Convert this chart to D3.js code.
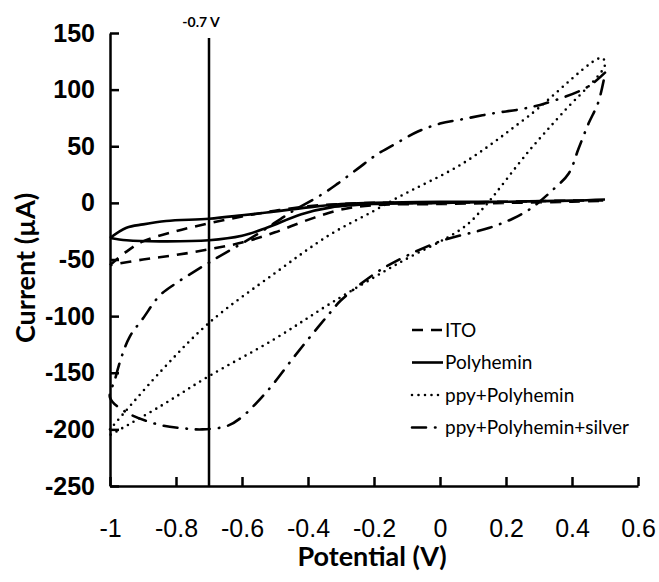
<html>
<head>
<meta charset="utf-8">
<style>
body { margin: 0; background: #fff; }
svg { font-family: Lato, "Open Sans", sans-serif; }
.axis path, .axis line { stroke: #000; stroke-width: 2.5px; }
.axis--y text { font-size: 25px; font-weight: bold; }
.axis--x text { font-size: 25px; }
.curve { fill: none; stroke: #000; stroke-width: 2.6px; }
.title { font-size: 27px; font-weight: bold; }
.legend text { font-size: 19px; }
</style>
</head>
<body>
<svg width="659" height="582"></svg>
<script src="https://cdn.jsdelivr.net/npm/d3@7"></script>
<script>

// ---- data: [potential (V), current (uA)] ----
var xTicks = [-1, -0.8, -0.6, -0.4, -0.2, 0, 0.2, 0.4, 0.6];
var yTicks = [150, 100, 50, 0, -50, -100, -150, -200, -250];
var marker = -0.7;

var ito = [
  [-1,-55],[-0.95,-43],[-0.9,-34],[-0.8,-25],[-0.7,-18],[-0.6,-12],[-0.5,-7],[-0.4,-3],[-0.3,-1],
  [-0.2,0],[0,0],[0.2,1],[0.4,2],[0.5,2],
  [0.4,1],[0.2,0],[0,-1],[-0.2,-2],[-0.3,-6],[-0.4,-15],[-0.5,-26],[-0.6,-35],
  [-0.7,-41],[-0.8,-46],[-0.9,-50],[-1,-55]
];
var polyhemin = [
  [-1,-31],[-0.95,-22],[-0.9,-19],[-0.83,-16],[-0.7,-14],[-0.6,-11],[-0.525,-8.5],[-0.4,-4],
  [-0.3,-1],[-0.2,0],[0,1],[0.2,1],[0.4,2],[0.5,3],
  [0.4,2],[0.2,1],[0,0],[-0.2,-1],[-0.33,-4],[-0.42,-10],[-0.525,-22],[-0.6,-29],
  [-0.7,-33],[-0.85,-34],[-0.95,-33],[-1,-31]
];
var ppyPolyhemin = [
  [-1,-200],[-0.85,-150],[-0.7,-106],[-0.5,-62],[-0.333,-28],[-0.2,-7],[-0.12,6],[0.07,35],
  [0.27,77],[0.49,128],
  [0.5,122],[0.37,79],[0.27,46],[0.13,-5],[0.07,-22],[-0.13,-54],[-0.333,-89],[-0.5,-120],
  [-0.7,-153],[-0.85,-180],[-1,-205]
];
var ppyPolyheminSilver = [
  [0.5,115],[0.445,102],[0.32,88],[0.25,83],[0.16,79],[0.07,74],[0,70],[-0.067,63],[-0.13,53],
  [-0.19,43],[-0.25,30],[-0.31,17],[-0.355,8],[-0.45,-8],[-0.55,-27],[-0.69,-51],[-0.8,-71],
  [-0.85,-82],[-0.9,-102],[-0.94,-118],[-0.965,-136],[-0.985,-156],[-1,-172],
  [-0.95,-185],[-0.85,-196],[-0.78,-199],[-0.72,-200],[-0.645,-197],[-0.6,-189],[-0.535,-170],
  [-0.5,-158],[-0.445,-137],[-0.39,-117],[-0.333,-97],[-0.3,-86],[-0.2,-63],[-0.13,-51],
  [0,-34],[0.15,-22],[0.22,-14],[0.27,-6],[0.34,11],[0.39,26],[0.42,48],[0.45,70],[0.48,89],[0.5,114]
];

var seriesNames = ["ITO", "Polyhemin", "ppy+Polyhemin", "ppy+Polyhemin+silver"];
var seriesData = [ito, polyhemin, ppyPolyhemin, ppyPolyheminSilver];
var dashes = ["11,8", null, "0,6.5", "14,9,0.5,9"];

var svg = d3.select("svg");

var x = d3.scaleLinear().domain([-1, 0.6]).range([110, 638]);
var y = d3.scaleLinear().domain([-250, 150]).range([486, 33]);

// plain hyphen for negatives, like the original
var fmt = function(d) { return String(d); };

// axes, ticks pointing inward
svg.append("g")
    .attr("class", "axis axis--y")
    .attr("transform", "translate(" + x(-1) + ",0)")
    .call(d3.axisLeft(y).tickValues(yTicks).tickFormat(fmt)
      .tickSizeInner(-9).tickSizeOuter(0).tickPadding(15));

svg.append("g")
    .attr("class", "axis axis--x")
    .attr("transform", "translate(0," + y(-250) + ")")
    .call(d3.axisBottom(x).tickValues(xTicks).tickFormat(fmt)
      .tickSizeInner(-9).tickSizeOuter(0).tickPadding(33));

svg.selectAll(".axis text").attr("fill", "#000");

// marker line at -0.7 V
svg.append("line")
    .attr("x1", x(marker)).attr("x2", x(marker))
    .attr("y1", 38).attr("y2", y(-250))
    .attr("stroke", "#000").attr("stroke-width", 2.5);
svg.append("text")
    .attr("x", x(marker) - 8).attr("y", 27)
    .attr("text-anchor", "middle")
    .style("font-size", "14px").style("font-weight", "bold")
    .text(marker + " V");

// curves
var line = d3.line()
    .x(function(d) { return x(d[0]); })
    .y(function(d) { return y(d[1]); })
    .curve(d3.curveCatmullRom.alpha(0.5));

svg.selectAll(".curve")
    .data(seriesData)
  .enter().append("path")
    .attr("class", "curve")
    .attr("d", line)
    .attr("stroke-dasharray", function(d, i) { return dashes[i]; })
    .attr("stroke-linecap", function(d, i) { return i == 2 || i == 3 ? "round" : "butt"; });

// axis titles
svg.append("text")
    .attr("class", "title")
    .attr("x", 372).attr("y", 566)
    .attr("text-anchor", "middle")
    .text("Potential (V)");

svg.append("text")
    .attr("class", "title")
    .attr("transform", "translate(35,268) rotate(-90)")
    .attr("text-anchor", "middle")
    .text("Current (µA)");

// legend
var legend = svg.append("g").attr("class", "legend");
var rows = legend.selectAll("g")
    .data(seriesNames)
  .enter().append("g")
    .attr("transform", function(d, i) { return "translate(412," + (330 + i * 32.5) + ")"; });

rows.append("line")
    .attr("x1", 0).attr("x2", 31)
    .attr("stroke", "#000").attr("stroke-width", 2.6)
    .attr("stroke-dasharray", function(d, i) { return dashes[i]; })
    .attr("stroke-linecap", function(d, i) { return i == 2 || i == 3 ? "round" : "butt"; });

rows.append("text")
    .attr("x", 33).attr("dy", "0.35em")
    .text(function(d) { return d; });

</script>
</body>
</html>
